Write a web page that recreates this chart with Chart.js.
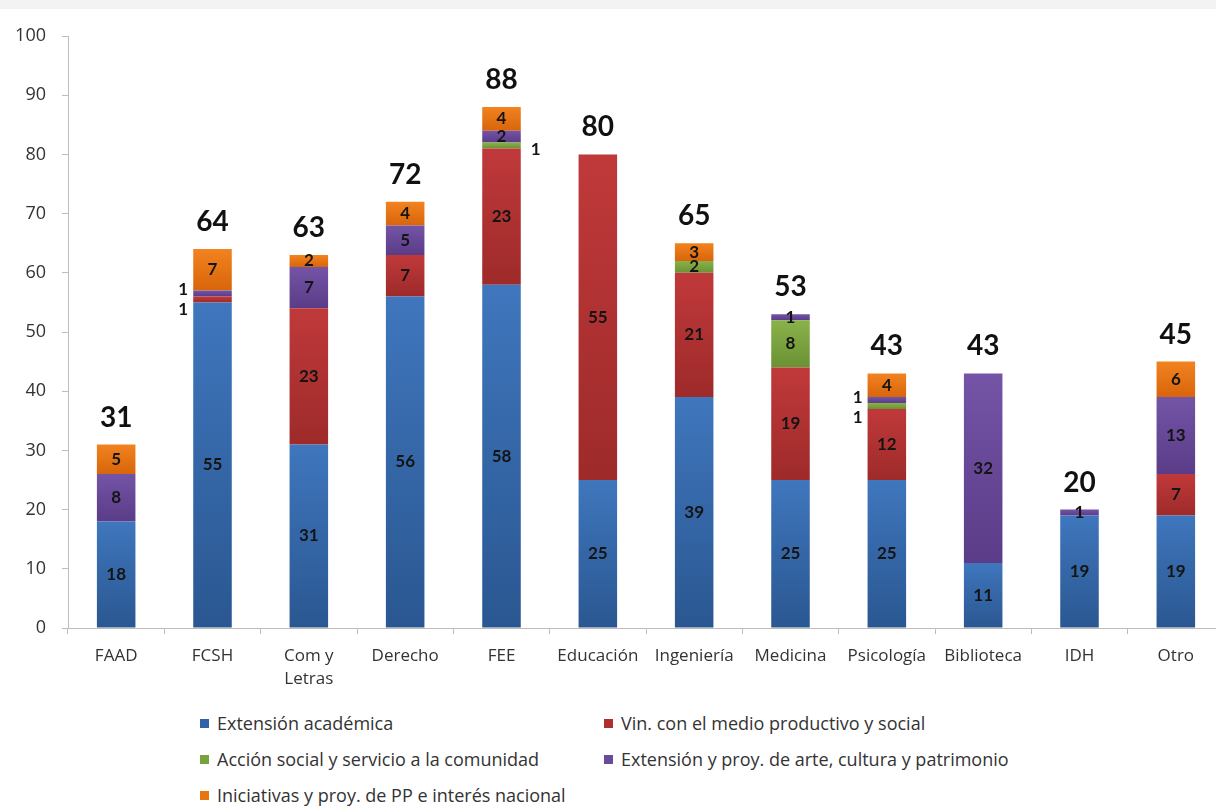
<!DOCTYPE html>
<html>
<head>
<meta charset="utf-8">
<script src="https://cdn.jsdelivr.net/npm/chart.js@4"></script>
<style>
  html, body { margin: 0; padding: 0; background: #fff; overflow: hidden; width: 1216px; height: 806px; }
  #topband { position: absolute; left: 0; top: 0; width: 1216px; height: 9px; background: #f3f3f3; }
  #wrap { position: absolute; left: 0; top: 0; width: 1224px; height: 700px; }
  #legend { position: absolute; left: 200px; top: 711px; width: 1000px; font-family: "Open Sans", sans-serif; font-size: 18px; color: #333; }
  .item { position: absolute; white-space: nowrap; line-height: 24px; }
  .box { display: inline-block; width: 9px; height: 9px; margin-right: 8px; vertical-align: 2px; }
</style>
</head>
<body>
<div id="topband"></div>
<div id="wrap"><canvas id="c" width="1224" height="700"></canvas></div>
<div id="legend"></div>
<script>
// ---- data ----
const categories = ["FAAD", "FCSH", ["Com y", "Letras"], "Derecho", "FEE", "Educación", "Ingeniería", "Medicina", "Psicología", "Biblioteca", "IDH", "Otro"];
const seriesNames = [
  "Extensión académica",
  "Vin. con el medio productivo y social",
  "Acción social y servicio a la comunidad",
  "Extensión y proy. de arte, cultura y patrimonio",
  "Iniciativas y proy. de PP e interés nacional"
];
const extensionAcademica = [18, 55, 31, 56, 58, 25, 39, 25, 25, 11, 19, 19];
const vinculacionMedio   = [0, 1, 23, 7, 23, 55, 21, 19, 12, 0, 0, 7];
const accionSocial       = [0, 0, 0, 0, 1, 0, 2, 8, 1, 0, 0, 0];
const arteCultura        = [8, 1, 7, 5, 2, 0, 0, 1, 1, 32, 1, 13];
const iniciativasPP      = [5, 7, 2, 4, 4, 0, 3, 0, 4, 0, 0, 6];
const yTicks = [0, 10, 20, 30, 40, 50, 60, 70, 80, 90, 100];

// ---- styling ----
const colorsTop    = ["#3f76bd", "#c0393a", "#89b24a", "#7454a6", "#f28320"];
const colorsBottom = ["#2a5791", "#9e2a2a", "#6a9234", "#5a3c88", "#d8650a"];
const legendColors = ["#2e63a8", "#b02e2e", "#77a23d", "#6a4a9a", "#e8760f"];
// outside label placement: key "category-series"
const outsidePlacement = {
  "1-1": { side: "left", dy: 10 },
  "1-3": { side: "left", dy: -4 },
  "4-2": { side: "right", dy: 4 },
  "8-2": { side: "left", dy: 12 },
  "8-3": { side: "left", dy: -3 }
};

const allSeries = [extensionAcademica, vinculacionMedio, accionSocial, arteCultura, iniciativasPP];

function gradientFor(ctx, si) {
  const chart = ctx.chart;
  const area = chart.chartArea;
  if (!area || ctx.type !== 'data') return colorsTop[si];
  const i = ctx.dataIndex;
  let start = 0;
  for (let k = 0; k < si; k++) start += allSeries[k][i];
  const end = start + allSeries[si][i];
  const y = chart.scales.y;
  if (!y) return colorsTop[si];
  const y0 = y.getPixelForValue(end), y1 = y.getPixelForValue(start);
  if (!isFinite(y0) || !isFinite(y1) || y0 === y1) return colorsTop[si];
  const g = chart.ctx.createLinearGradient(0, y0, 0, y1);
  g.addColorStop(0, colorsTop[si]);
  g.addColorStop(1, colorsBottom[si]);
  return g;
}

const datasets = allSeries.map((arr, si) => ({
  label: seriesNames[si],
  data: arr,
  backgroundColor: (ctx) => gradientFor(ctx, si),
  borderWidth: 0,
  barPercentage: 0.4,
  categoryPercentage: 1.0
}));

const labelPlugin = {
  id: 'labels',
  afterDatasetsDraw(chart) {
    const ctx = chart.ctx;
    ctx.save();
    ctx.textAlign = 'center';
    ctx.textBaseline = 'middle';
    ctx.fillStyle = '#141414';
    ctx.font = 'bold 17px Lato, sans-serif';
    chart.data.datasets.forEach((ds, si) => {
      const meta = chart.getDatasetMeta(si);
      meta.data.forEach((bar, i) => {
        const v = ds.data[i];
        if (!v) return;
        let x = bar.x;
        let y = (bar.y + bar.base) / 2;
        const p = outsidePlacement[i + "-" + si];
        if (p) {
          x = p.side === 'left' ? bar.x - bar.width / 2 - 10 : bar.x + bar.width / 2 + 15;
          y += p.dy;
        }
        ctx.fillText(String(v), x, y);
      });
    });
    // totals
    ctx.font = 'bold 28px Lato, sans-serif';
    ctx.fillStyle = '#111';
    const xs = chart.scales.x, ys = chart.scales.y;
    categories.forEach((c, i) => {
      const total = allSeries.reduce((s, a) => s + a[i], 0);
      ctx.fillText(String(total), xs.getPixelForValue(i), ys.getPixelForValue(total) - 27);
    });
    ctx.restore();
  }
};

new Chart(document.getElementById('c'), {
  type: 'bar',
  data: { labels: categories, datasets },
  options: {
    responsive: false,
    animation: false,
    layout: { padding: { top: 36, right: 0, left: 0, bottom: 0 } },
    plugins: { legend: { display: false }, tooltip: { enabled: false } },
    scales: {
      x: {
        stacked: true,
        afterFit: (s) => { s.height = 72; },
        grid: { display: true, drawOnChartArea: false, tickLength: 6, color: '#bdbdbd', offset: true },
        border: { color: '#bdbdbd', width: 1 },
        ticks: { color: '#333', font: { family: 'Open Sans', size: 17, lineHeight: 1.35 }, padding: 11, maxRotation: 0, autoSkip: false }
      },
      y: {
        stacked: true,
        min: 0, max: 100,
        afterFit: (s) => { s.width = 68; },
        afterBuildTicks: (s) => { s.ticks = yTicks.map(v => ({ value: v })); },
        grid: { display: true, drawOnChartArea: false, tickLength: 6, color: '#bdbdbd' },
        border: { color: '#bdbdbd', width: 1 },
        ticks: { color: '#333', font: { family: 'Open Sans', size: 18 }, padding: 16 }
      }
    }
  },
  plugins: [labelPlugin]
});

// legend (HTML)
const legend = document.getElementById('legend');
const legendPos = [[0, 0], [404, 0], [0, 36], [404, 36], [0, 72]];
seriesNames.forEach((n, si) => {
  const d = document.createElement('div');
  d.className = 'item';
  d.style.left = legendPos[si][0] + 'px';
  d.style.top = legendPos[si][1] + 'px';
  d.innerHTML = '<span class="box" style="background:' + legendColors[si] + '"></span>' + n;
  legend.appendChild(d);
});
</script>
</body>
</html>
